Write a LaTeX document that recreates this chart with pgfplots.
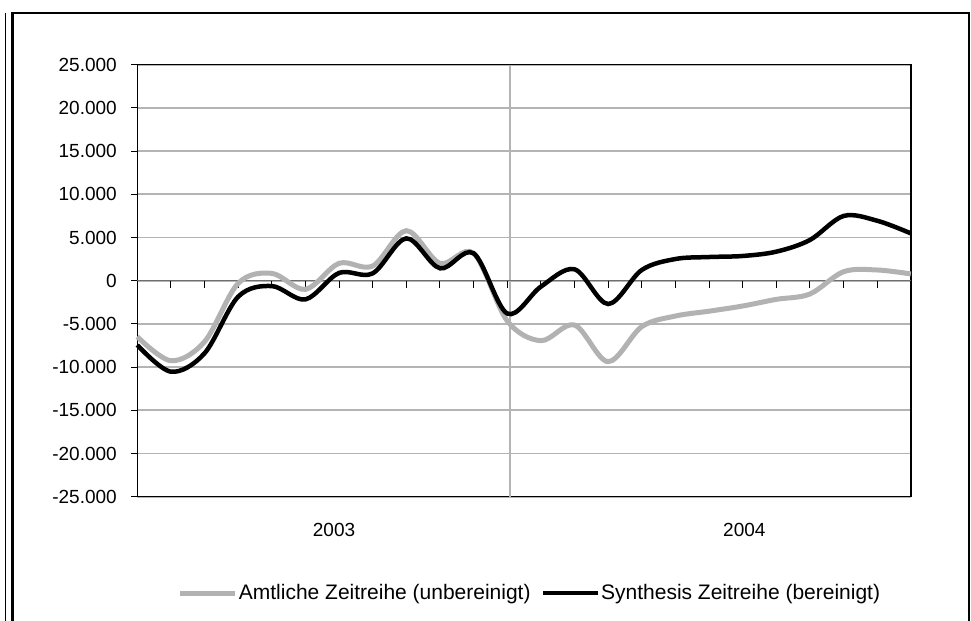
\documentclass[border=0pt]{standalone}
\usepackage{pgfplots}
\pgfplotsset{compat=1.18}
\usepackage{fontspec}
\setmainfont{Liberation Sans}
\definecolor{lgray}{RGB}{178,178,178}
\definecolor{ggray}{RGB}{180,180,180}
\definecolor{zgray}{RGB}{110,110,110}
\pgfplotstableread{
x y
0 -6480
1 -9260
2 -7060
3 -300
4 850
5 -1000
6 2010
7 1700
8 5790
9 2010
10 3170
11 -4650
12 -6940
13 -5130
14 -9370
15 -5320
16 -4090
17 -3530
18 -2930
19 -2160
20 -1540
21 1040
22 1240
23 780
}\amtlich
\pgfplotstableread{
x y
0 -7440
1 -10530
2 -8400
3 -1850
4 -620
5 -2160
6 900
7 850
8 4900
9 1430
10 3170
11 -3800
12 -690
13 1320
14 -2700
15 1240
16 2510
17 2740
18 2860
19 3360
20 4710
21 7490
22 6940
23 5480
}\synthesis
\newcommand\chartfont{\fontsize{19bp}{21bp}\selectfont}
\newcommand\legfont{\fontsize{21bp}{23bp}\selectfont}
\begin{document}
\begin{tikzpicture}[x=1bp,y=1bp]
\useasboundingbox (-137.3,-124.3) rectangle (833.7,496.7);
\draw[line width=1bp] (-131.6,-130) -- (-131.6,483.7);
\draw[line width=2.5bp] (-124.6,-130) -- (-124.6,483.7) -- (831.7,483.7) -- (831.7,-130);
\begin{axis}[at={(0,0)}, anchor=south west, scale only axis,
 width=773.5bp, height=432bp,
 xmin=0, xmax=23, ymin=-25000, ymax=25000,
 xtick=\empty,
 scaled y ticks=false,
 ytick={-25000,-20000,...,25000},
 yticklabels={-25.000,-20.000,-15.000,-10.000,-5.000,0,5.000,10.000,15.000,20.000,25.000},
 yticklabel style={xshift=-11bp},
 ymajorgrids, grid style={line width=1.8bp, color=ggray},
 ytick pos=left, tick align=outside, major tick length=6bp,
 tick style={black, line width=1bp},
 axis line style={line width=1.5bp},
 font=\chartfont,
 legend style={at={(0.507,-0.223)}, anchor=center, draw=none, fill=none,
   legend columns=2, font=\legfont,
   /tikz/every even column/.append style={column sep=9bp},
   nodes={inner sep=1bp}},
 legend image code/.code={\draw[#1] (0bp,0bp) -- (55bp,0bp);},
 clip=false,
]
\draw[line width=1.8bp, color=ggray] (axis cs:11.08,-25000) -- (axis cs:11.08,25000);
\draw[line width=1.5bp, color=zgray] (axis cs:0,0) -- (axis cs:23,0);
\pgfplotsinvokeforeach{1,...,22}{\draw[line width=1bp, color=black] (axis cs:#1,0) -- ++(0bp,-7bp);}
\addplot[color=lgray, line width=5bp, smooth, tension=0.55] table[x=x,y=y] {\amtlich};
\addlegendentry{Amtliche Zeitreihe (unbereinigt)}
\addplot[color=black, line width=4.5bp, smooth, tension=0.55] table[x=x,y=y] {\synthesis};
\addlegendentry{Synthesis Zeitreihe (bereinigt)}
\node[font=\chartfont] at ([yshift=-33.5bp]axis cs:5.85,-25000) {2003};
\node[font=\chartfont] at ([yshift=-33.5bp]axis cs:18.05,-25000) {2004};
\end{axis}
\end{tikzpicture}
\end{document}
